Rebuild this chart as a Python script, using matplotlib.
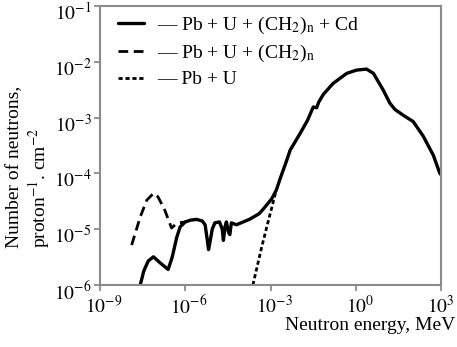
import matplotlib
matplotlib.use('Agg')
import matplotlib.pyplot as plt
import matplotlib.transforms as mtransforms

plt.rcParams['font.family'] = ['Liberation Serif', 'DejaVu Serif']
plt.rcParams['mathtext.fontset'] = 'stix'

# Pb + U + (CH2)n + Cd
energy_cd = [2.6e-8, 3.5e-8, 5.0e-8, 7.6e-8, 1.3e-7, 2.5e-7, 3.5e-7, 5.0e-7, 6.6e-7,
             1.0e-6, 1.5e-6, 2.5e-6, 4.0e-6, 5.0e-6, 6.0e-6, 6.6e-6, 7.6e-6, 8.9e-6,
             1.1e-5, 1.6e-5, 2.0e-5, 2.2e-5, 2.5e-5, 2.8e-5, 3.3e-5, 3.7e-5, 4.2e-5,
             6.3e-5, 1.1e-4, 1.8e-4, 2.5e-4, 4.0e-4, 5.6e-4, 1.1e-3, 1.6e-3, 2.1e-3,
             3.7e-3, 4.9e-3, 1.1e-2, 2.0e-2, 3.2e-2, 4.2e-2, 5.0e-2, 7.2e-2, 0.16,
             0.48, 1.07, 2.4, 4.2, 9.3, 16, 24, 47, 105, 240, 540, 910, 1000]
flux_cd = [1.0e-6, 1.8e-6, 2.7e-6, 3.2e-6, 2.5e-6, 1.9e-6, 3.2e-6, 7.1e-6, 1.1e-5,
           1.35e-5, 1.45e-5, 1.5e-5, 1.4e-5, 1.2e-5, 6.3e-6, 4.3e-6, 6.3e-6, 1.0e-5,
           1.3e-5, 1.35e-5, 1.0e-5, 6.3e-6, 1.1e-5, 1.35e-5, 8.9e-6, 8.0e-6, 1.3e-5,
           1.2e-5, 1.35e-5, 1.5e-5, 1.65e-5, 1.9e-5, 2.3e-5, 3.5e-5, 5.0e-5, 7.6e-5,
           1.7e-4, 2.6e-4, 5.2e-4, 8.9e-4, 1.55e-3, 1.5e-3, 1.9e-3, 2.6e-3, 4.1e-3,
           6.2e-3, 7.1e-3, 7.4e-3, 6.2e-3, 3.1e-3, 1.8e-3, 1.4e-3, 1.1e-3, 8.5e-4,
           4.6e-4, 2.1e-4, 1.0e-4, 9.5e-5]

# Pb + U + (CH2)n
energy_ch2 = [1.3e-8, 2.6e-8, 4.4e-8, 7.6e-8, 1.1e-7, 1.9e-7, 3.3e-7, 4.4e-7, 5.8e-7, 1.0e-6]
flux_ch2 = [5.2e-6, 1.65e-5, 3.3e-5, 4.4e-5, 3.8e-5, 2.2e-5, 1.05e-5, 1.2e-5, 1.3e-5, 1.35e-5]

# Pb + U
energy_pbu = [2.4e-4, 5.0e-4, 1.0e-3, 1.6e-3]
flux_pbu = [1.0e-6, 5.0e-6, 2.0e-5, 5.0e-5]

labels = ['— Pb + U + (CH$_2$)$_\\mathrm{n}$ + Cd', '— Pb + U + (CH$_2$)$_\\mathrm{n}$', '— Pb + U']
xticks = [1e-9, 1e-6, 1e-3, 1e0, 1e3]
xticklabels = ['$10^{-9}$', '$10^{-6}$', '$10^{-3}$', '$10^{0}$', '$10^{3}$']
yticks = [1e-6, 1e-5, 1e-4, 1e-3, 1e-2, 1e-1]
yticklabels = ['$10^{-6}$', '$10^{-5}$', '$10^{-4}$', '$10^{-3}$', '$10^{-2}$', '$10^{-1}$']

fig = plt.figure(figsize=(4.57, 3.47), dpi=100)
ax = fig.add_axes([100 / 457, 62 / 347, 341 / 457, 279 / 347])

ax.plot(energy_cd, flux_cd, color='black', lw=2.4, solid_capstyle='round', label=labels[0])
ax.plot(energy_ch2, flux_ch2, color='black', lw=2.0, linestyle=(0, (3.5, 2)), label=labels[1])
ax.plot(energy_pbu, flux_pbu, color='black', lw=2.0, linestyle=(0, (1.5, 1)), label=labels[2])

ax.set_xscale('log')
ax.set_yscale('log')
ax.set_xlim(1e-9, 1e3)
ax.set_ylim(1e-6, 1e-1)
ax.minorticks_off()
ax.set_xticks(xticks)
ax.set_xticklabels(xticklabels)
ax.set_yticks(yticks)
ax.set_yticklabels(yticklabels)
ax.tick_params(direction='out', length=4, width=1.2, color='#808080', labelsize=14, pad=2)

# labels in the original sit with the "10" roughly centred on the tick
xlabs = ax.get_xticklabels()
for i, lab in enumerate(xlabs):
    shift = 4 if i < len(xlabs) - 1 else 0
    off = mtransforms.ScaledTranslation(shift / 100, -2 / 100, fig.dpi_scale_trans)
    lab.set_transform(lab.get_transform() + off)
dy = mtransforms.ScaledTranslation(0, -5 / 100, fig.dpi_scale_trans)
for lab in ax.get_yticklabels():
    lab.set_transform(lab.get_transform() + dy)

for s in ax.spines.values():
    s.set_color('#8a8a8a')
    s.set_linewidth(1.5)

ax.legend(loc='upper left', bbox_to_anchor=(0.02, 1.01), frameon=False, fontsize=14,
          handlelength=1.3, handletextpad=0.7, labelspacing=0.35, borderaxespad=0.2)

fig.text(455 / 457, 1 - 325 / 347, 'Neutron energy, MeV', ha='right', va='center', fontsize=14)
fig.text(29 / 457, 1 - 167 / 347, 'Number of neutrons,\nproton$^{-1}$. cm$^{-2}$',
         rotation=90, ha='center', va='center', multialignment='left', fontsize=14,
         linespacing=1.15)

fig.savefig('out.png', dpi=100)
